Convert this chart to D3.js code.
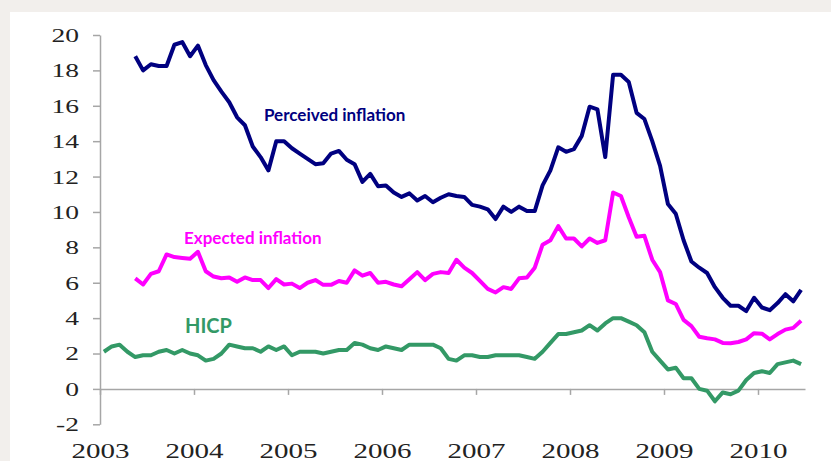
<!DOCTYPE html>
<html>
<head>
<meta charset="utf-8">
<script src="https://cdn.jsdelivr.net/npm/d3@7"></script>
<style>
  html, body { margin: 0; padding: 0; background: #f2efec; }
  #chart { width: 831px; height: 461px; }
</style>
</head>
<body>
<div id="chart"></div>
<script>
// monthly data, Jan 2003 .. Jun 2010 (90 months)
const years = ["2003", "2004", "2005", "2006", "2007", "2008", "2009", "2010"];
const yTicks = [-2, 0, 2, 4, 6, 8, 10, 12, 14, 16, 18, 20];

const hicp = [
  2.1, 2.4, 2.5, 2.1, 1.8, 1.9, 1.9, 2.1, 2.2, 2.0, 2.2, 2.0,
  1.9, 1.6, 1.7, 2.0, 2.5, 2.4, 2.3, 2.3, 2.1, 2.4, 2.2, 2.4,
  1.9, 2.1, 2.1, 2.1, 2.0, 2.1, 2.2, 2.2, 2.6, 2.5, 2.3, 2.2,
  2.4, 2.3, 2.2, 2.5, 2.5, 2.5, 2.5, 2.3, 1.7, 1.6, 1.9, 1.9,
  1.8, 1.8, 1.9, 1.9, 1.9, 1.9, 1.8, 1.7, 2.1, 2.6, 3.1, 3.1,
  3.2, 3.3, 3.6, 3.3, 3.7, 4.0, 4.0, 3.8, 3.6, 3.2, 2.1, 1.6,
  1.1, 1.2, 0.6, 0.6, 0.0, -0.1, -0.7, -0.2, -0.3, -0.1, 0.5, 0.9,
  1.0, 0.9, 1.4, 1.5, 1.6, 1.4
];

// perceived and expected start in May 2003
const surveyStart = 4;
const perceived = [
  18.8, 18.0, 18.35, 18.25, 18.25, 19.45, 19.6, 18.8,
  19.4, 18.3, 17.45, 16.8, 16.2, 15.35, 14.9, 13.7, 13.1, 12.35, 14.0, 14.0,
  13.6, 13.3, 13.0, 12.7, 12.75, 13.3, 13.45, 12.95, 12.7, 11.7, 12.15, 11.45,
  11.5, 11.1, 10.85, 11.05, 10.65, 10.9, 10.55, 10.8, 11.0, 10.9, 10.85, 10.4,
  10.3, 10.15, 9.6, 10.3, 10.0, 10.3, 10.05, 10.05, 11.5, 12.35, 13.65, 13.4,
  13.55, 14.3, 15.95, 15.8, 13.1, 17.75, 17.75, 17.35, 15.6, 15.25, 14.0, 12.6,
  10.45, 9.9, 8.4, 7.2, 6.85, 6.55, 5.75, 5.15, 4.7, 4.7, 4.4, 5.15,
  4.6, 4.45, 4.85, 5.35, 4.95, 5.6
];
const expected = [
  6.25, 5.9, 6.5, 6.65, 7.6, 7.45, 7.4, 7.35,
  7.75, 6.65, 6.35, 6.25, 6.3, 6.05, 6.3, 6.15, 6.15, 5.7, 6.2, 5.9,
  5.95, 5.7, 6.0, 6.15, 5.88, 5.88, 6.1, 6.0, 6.7, 6.4, 6.55, 6.0,
  6.05, 5.9, 5.8, 6.2, 6.6, 6.15, 6.5, 6.6, 6.55, 7.3, 6.85, 6.55,
  6.1, 5.65, 5.45, 5.75, 5.65, 6.25, 6.3, 6.85, 8.15, 8.4, 9.2, 8.5,
  8.5, 8.05, 8.5, 8.25, 8.4, 11.1, 10.9, 9.7, 8.6, 8.65, 7.3, 6.6,
  5.0, 4.8, 3.9, 3.55, 2.95, 2.86, 2.8, 2.6, 2.58, 2.65, 2.8, 3.15,
  3.12, 2.8, 3.1, 3.35, 3.45, 3.85
];

const width = 831, height = 461;
const stretch = 1.45; // the serif tick labels are drawn wide

const svg = d3.select("#chart").append("svg")
    .attr("width", width)
    .attr("height", height);

svg.append("rect")
    .attr("x", 10).attr("y", 12)
    .attr("width", width - 10).attr("height", height - 12)
    .attr("fill", "#fff");

const x = d3.scaleLinear().domain([0, 90]).range([100, 805]);
const y = d3.scaleLinear().domain([-2, 20]).range([424.3, 35]);

// y axis
const yAxis = svg.append("g")
    .attr("transform", "translate(100,0)")
    .call(d3.axisLeft(y).tickValues(yTicks).tickSize(7).tickSizeOuter(0)
        .tickFormat(d => d));
yAxis.selectAll("path, line").attr("stroke", "#a6a6a6").attr("stroke-width", 1.5);
yAxis.selectAll("text")
    .attr("x", -21 / stretch)
    .attr("dy", "0.34em")
    .attr("transform", `scale(${stretch},1)`)
    .attr("font-family", "'Liberation Serif', serif")
    .attr("font-size", 19)
    .attr("fill", "#222");

// x axis sits on zero
const xAxis = svg.append("g")
    .attr("transform", `translate(0,${y(0)})`)
    .call(d3.axisBottom(x).tickValues(years.map((_, i) => i * 12)).tickSize(6).tickSizeOuter(0)
        .tickFormat((d, i) => years[i]));
xAxis.selectAll("path, line").attr("stroke", "#a6a6a6").attr("stroke-width", 1.5);
xAxis.selectAll("text")
    .attr("y", 458 - y(0))
    .attr("dy", 0)
    .attr("transform", `scale(${stretch},1)`)
    .attr("font-family", "'Liberation Serif', serif")
    .attr("font-size", 20)
    .attr("fill", "#222");

const line = d3.line()
    .x(d => x(d.i + 0.5))
    .y(d => y(d.v));

const series = [
    {name: "hicp", color: "#339966", start: 0, values: hicp},
    {name: "expected", color: "#ff00ff", start: surveyStart, values: expected},
    {name: "perceived", color: "#000080", start: surveyStart, values: perceived}
];

svg.selectAll("path.series")
    .data(series)
    .join("path")
    .attr("class", "series")
    .attr("fill", "none")
    .attr("stroke", d => d.color)
    .attr("stroke-width", 4)
    .attr("stroke-linejoin", "round")
    .attr("d", d => line(d.values.map((v, k) => ({i: d.start + k, v: v}))));

const labels = [
    {text: "Perceived inflation", color: "#000080", x: 264, y: 121, size: 17},
    {text: "Expected inflation", color: "#ff00ff", x: 184, y: 244, size: 17},
    {text: "HICP", color: "#339966", x: 185, y: 333, size: 20}
];

svg.selectAll("text.label")
    .data(labels)
    .join("text")
    .attr("class", "label")
    .attr("x", d => d.x)
    .attr("y", d => d.y)
    .attr("fill", d => d.color)
    .attr("font-family", "Lato, sans-serif")
    .attr("font-weight", "bold")
    .attr("font-size", d => d.size)
    .text(d => d.text);
</script>
</body>
</html>
